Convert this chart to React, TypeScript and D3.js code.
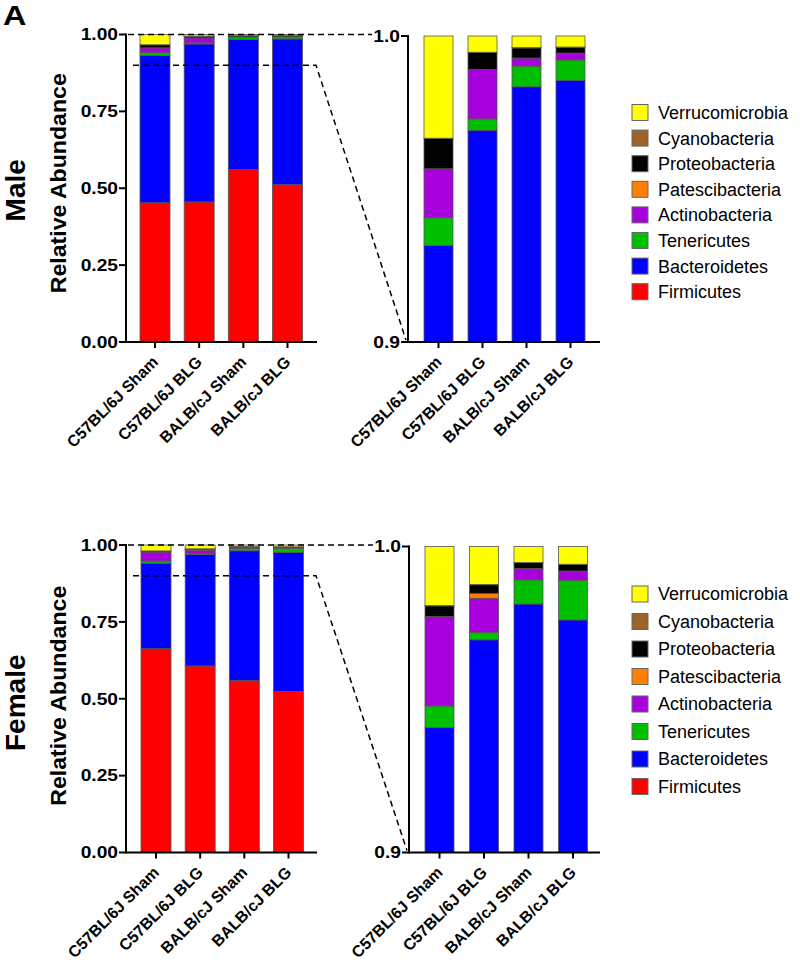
import React from "react";
import * as d3 from "d3";

const groups = ["C57BL/6J Sham", "C57BL/6J BLG", "BALB/c Sham", "BALB/cJ BLG"];
const groupLabels = ["C57BL/6J Sham", "C57BL/6J BLG", "BALB/cJ Sham", "BALB/cJ BLG"];
const phyla = [
  "Firmicutes",
  "Bacteroidetes",
  "Tenericutes",
  "Actinobacteria",
  "Patescibacteria",
  "Proteobacteria",
  "Cyanobacteria",
  "Verrucomicrobia",
];
const phylaColors = ["#FF0000", "#0000FF", "#00BF00", "#A800DC", "#FF8000", "#000000", "#9C6428", "#FFFF00"];

// Male relative abundance (per phylum, per group)
const maleFirmicutes = [0.453, 0.4555, 0.5607, 0.512];
const maleBacteroidetes = [0.4786, 0.5137, 0.4227, 0.4735];
const maleTenericutes = [0.009, 0.0037, 0.0068, 0.0067];
const maleActinobacteria = [0.016, 0.0162, 0.0026, 0.0022];
const malePatescibacteria = [0.0, 0.0, 0.0, 0.0];
const maleProteobacteria = [0.0099, 0.0055, 0.0033, 0.0019];
const maleCyanobacteria = [0.0001, 0.0001, 0.0001, 0.0001];
const maleVerrucomicrobia = [0.0334, 0.0053, 0.0038, 0.0036];

// Female relative abundance
const femaleFirmicutes = [0.663, 0.6065, 0.5598, 0.524];
const femaleBacteroidetes = [0.2778, 0.363, 0.4214, 0.452];
const femaleTenericutes = [0.0071, 0.0025, 0.0079, 0.013];
const femaleActinobacteria = [0.0292, 0.0111, 0.0037, 0.003];
const femalePatescibacteria = [0.0, 0.0016, 0.0, 0.0];
const femaleProteobacteria = [0.0035, 0.0028, 0.0019, 0.0021];
const femaleCyanobacteria = [0.0001, 0.0001, 0.0001, 0.0001];
const femaleVerrucomicrobia = [0.0193, 0.0124, 0.0052, 0.0058];

const leftTicks = [0, 0.25, 0.5, 0.75, 1.0];
const rightTicks = [0.9, 1.0];

const FONT = "'Liberation Sans', Arial, Helvetica, sans-serif";

function buildRows(series: number[][]) {
  return groups.map((g, i) => {
    const row: any = { group: g };
    phyla.forEach((p, j) => (row[p] = series[j][i]));
    return row;
  });
}

const maleRows = buildRows([
  maleFirmicutes,
  maleBacteroidetes,
  maleTenericutes,
  maleActinobacteria,
  malePatescibacteria,
  maleProteobacteria,
  maleCyanobacteria,
  maleVerrucomicrobia,
]);
const femaleRows = buildRows([
  femaleFirmicutes,
  femaleBacteroidetes,
  femaleTenericutes,
  femaleActinobacteria,
  femalePatescibacteria,
  femaleProteobacteria,
  femaleCyanobacteria,
  femaleVerrucomicrobia,
]);

type PanelCfg = {
  axisX: number;
  axisEndX: number;
  yTop: number;
  yBottom: number;
  domain: [number, number];
  c0: number;
  c1: number;
  barW: number;
  ticks: number[];
  fmt: (v: number) => string;
  id: string;
};

function StackPanel({ rows, cfg }: { rows: any[]; cfg: PanelCfg }) {
  const y = d3.scaleLinear().domain(cfg.domain).range([cfg.yBottom, cfg.yTop]);
  const x = d3.scalePoint<string>().domain(groups).range([cfg.c0, cfg.c1]);
  const stack = d3.stack<any>().keys(phyla)(rows);
  return (
    <g>
      <defs>
        <clipPath id={cfg.id}>
          <rect x={cfg.axisX} y={cfg.yTop - 1} width={cfg.axisEndX - cfg.axisX} height={cfg.yBottom - cfg.yTop + 1} />
        </clipPath>
      </defs>
      <g clipPath={`url(#${cfg.id})`}>
        {stack.map((layer, li) =>
          layer.map((d, i) => {
            const y0 = Math.max(d[0], cfg.domain[0]);
            const y1 = Math.max(d[1], cfg.domain[0]);
            if (y1 - y0 <= 0) return null;
            const cx = x(groups[i]) as number;
            return (
              <rect
                key={`${li}-${i}`}
                x={cx - cfg.barW / 2}
                y={y(y1)}
                width={cfg.barW}
                height={y(y0) - y(y1)}
                fill={phylaColors[li]}
                stroke="#555"
                strokeWidth={0.8}
              />
            );
          })
        )}
      </g>
      {/* y axis */}
      <line x1={cfg.axisX} x2={cfg.axisX} y1={cfg.yTop - 1} y2={cfg.yBottom + 1} stroke="#000" strokeWidth={2} />
      {cfg.ticks.map((t) => (
        <g key={t}>
          <line x1={cfg.axisX - 7} x2={cfg.axisX} y1={y(t)} y2={y(t)} stroke="#000" strokeWidth={2} />
          <text
            x={cfg.axisX - 8}
            y={y(t)}
            dy="0.36em"
            textAnchor="end"
            fontSize={16}
            fontWeight="bold"
            fontFamily={FONT}
            transform={`translate(${cfg.axisX - 8},0) scale(1.2,1) translate(${-(cfg.axisX - 8)},0)`}
          >
            {cfg.fmt(t)}
          </text>
        </g>
      ))}
      {/* x axis */}
      <line x1={cfg.axisX} x2={cfg.axisEndX} y1={cfg.yBottom} y2={cfg.yBottom} stroke="#000" strokeWidth={2} />
      {groups.map((g, i) => {
        const cx = x(g) as number;
        return (
          <g key={g}>
            <line x1={cx} x2={cx} y1={cfg.yBottom} y2={cfg.yBottom + 6} stroke="#000" strokeWidth={2} />
            <text
              transform={`translate(${cx + 4},${cfg.yBottom + 21}) rotate(-45)`}
              textAnchor="end"
              fontSize={16}
              fontWeight="bold"
              fontFamily={FONT}
            >
              {groupLabels[i]}
            </text>
          </g>
        );
      })}
    </g>
  );
}

function Legend({ x, y0, step }: { x: number; y0: number; step: number }) {
  const order = [...phyla].reverse();
  const colors = [...phylaColors].reverse();
  return (
    <g>
      {order.map((p, i) => (
        <g key={p}>
          <rect x={x} y={y0 + i * step - 8} width={16} height={16} fill={colors[i]} stroke="#666" strokeWidth={1} />
          <text x={x + 26} y={y0 + i * step} dy="0.36em" fontSize={18} fontFamily={FONT}>
            {p}
          </text>
        </g>
      ))}
    </g>
  );
}

function Section({
  rows,
  title,
  top,
  legendStep,
  legendTop,
  labelShift,
  titleShift,
  offsets,
}: {
  rows: any[];
  title: string;
  top: number;
  legendStep: number;
  legendTop: number;
  labelShift: number;
  titleShift: number;
  offsets: { lc0: number; lc1: number; rc0: number; rc1: number; rAxis: number };
}) {
  const leftCfg: PanelCfg = {
    axisX: 126,
    axisEndX: 317,
    yTop: top,
    yBottom: top + 307.5,
    domain: [0, 1],
    c0: offsets.lc0,
    c1: offsets.lc1,
    barW: 30,
    ticks: leftTicks,
    fmt: d3.format(".2f"),
    id: `clipL${title}`,
  };
  const rightCfg: PanelCfg = {
    axisX: offsets.rAxis,
    axisEndX: 600,
    yTop: top + 1.5,
    yBottom: top + 307.5,
    domain: [0.9, 1],
    c0: offsets.rc0,
    c1: offsets.rc1,
    barW: 29,
    ticks: rightTicks,
    fmt: d3.format(".1f"),
    id: `clipR${title}`,
  };
  const yL = d3.scaleLinear().domain([0, 1]).range([leftCfg.yBottom, leftCfg.yTop]);
  const midY = (leftCfg.yTop + leftCfg.yBottom) / 2;
  return (
    <g>
      <StackPanel rows={rows} cfg={leftCfg} />
      <StackPanel rows={rows} cfg={rightCfg} />
      {/* zoom guide lines */}
      <line
        x1={leftCfg.axisX + 2}
        x2={rightCfg.axisX - 36}
        y1={yL(1)}
        y2={yL(1)}
        stroke="#000"
        strokeWidth={1.5}
        strokeDasharray="6,4"
      />
      <path
        d={`M${leftCfg.axisX + 7},${yL(0.9)} L${316},${yL(0.9)} L${rightCfg.axisX - 2},${rightCfg.yBottom - 2}`}
        fill="none"
        stroke="#000"
        strokeWidth={1.5}
        strokeDasharray="6,4"
      />
      <text
        transform={`translate(66,${midY + labelShift}) rotate(-90)`}
        textAnchor="middle"
        fontSize={22}
        fontWeight="bold"
        fontFamily={FONT}
        textLength={220}
        lengthAdjust="spacingAndGlyphs"
      >
        Relative Abundance
      </text>
      <text
        transform={`translate(25,${midY + titleShift}) rotate(-90)`}
        textAnchor="middle"
        fontSize={28}
        fontWeight="bold"
        fontFamily={FONT}
      >
        {title}
      </text>
      <Legend x={632} y0={top + legendTop} step={legendStep} />
    </g>
  );
}

export default function App() {
  return (
    <svg
      width={800}
      height={962}
      style={{ position: "absolute", left: 0, top: 0, background: "#fff" }}
      xmlns="http://www.w3.org/2000/svg"
    >
      <rect width={800} height={962} fill="#fff" />
      <text x={3} y={25} fontSize={27} fontWeight="bold" fontFamily={FONT} transform="translate(3,0) scale(1.2,1) translate(-3,0)">
        A
      </text>
      <Section
        rows={maleRows}
        title="Male"
        top={34.5}
        legendStep={25.6}
        legendTop={78}
        labelShift={-5}
        titleShift={2}
        offsets={{ lc0: 155, lc1: 287.5, rc0: 438.5, rc1: 570.5, rAxis: 408 }}
      />
      <Section
        rows={femaleRows}
        title="Female"
        top={545}
        legendStep={27.5}
        legendTop={49}
        labelShift={-3}
        titleShift={4}
        offsets={{ lc0: 156, lc1: 288.5, rc0: 439.5, rc1: 573, rAxis: 409 }}
      />
    </svg>
  );
}
